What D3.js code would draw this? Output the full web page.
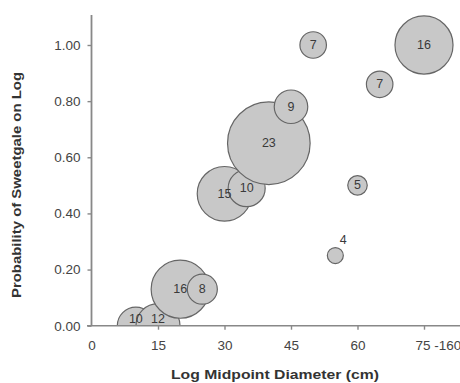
<!DOCTYPE html>
<html>
<head>
<meta charset="utf-8">
<script src="https://cdn.jsdelivr.net/npm/d3@7/dist/d3.min.js"></script>
<style>
  body { margin: 0; background: #fff; }
  svg { display: block; font-family: "Liberation Sans", Arial, sans-serif; }
</style>
</head>
<body>
<div class="graph-container"></div>
<script>
// values
const diameters = [10, 15, 20, 25, 30, 35, 40, 45, 50, 55, 60, 65, 75];
const probabilities = [0.00, 0.00, 0.13, 0.13, 0.47, 0.49, 0.65, 0.78, 1.00, 0.25, 0.50, 0.86, 1.00];
const counts = [10, 12, 16, 8, 15, 10, 23, 9, 7, 4, 5, 7, 16];
const xTicks = [0, 15, 30, 45, 60, 75];
const xTickLabels = ['0', '15', '30', '45', '60', '75 -160'];
const yTicks = [0, 0.2, 0.4, 0.6, 0.8, 1.0];

const width = 460;
const height = 383;

const svg = d3.select('.graph-container')
  .append('svg')
  .attr('width', width)
  .attr('height', height);

const x = d3.scaleLinear().domain([0, 75]).range([91.5, 424]);
const y = d3.scaleLinear().domain([0, 1]).range([325.7, 45]);
const r = d3.scaleLinear().domain([4, 23]).range([8, 41.3]);

const points = diameters.map((d, i) => ({ x: d, p: probabilities[i], n: counts[i] }));

// bubbles are cut off at the x axis
svg.append('clipPath').attr('id', 'plot-clip')
  .append('rect')
  .attr('x', x(0)).attr('y', 0)
  .attr('width', width - x(0)).attr('height', y(0));

const bubbles = svg.append('g').attr('clip-path', 'url(#plot-clip)');

bubbles.selectAll('circle')
  .data(points)
  .join('circle')
  .attr('cx', d => x(d.x))
  .attr('cy', d => y(d.p))
  .attr('r', d => r(d.n))
  .attr('fill', '#c8c8c8')
  .attr('stroke', '#666')
  .attr('stroke-width', 1.2);

// labels: small bubbles get theirs above-right, labels stay above the axis
svg.append('g')
  .selectAll('text')
  .data(points)
  .join('text')
  .attr('x', d => r(d.n) < 9 ? x(d.x) + 8 : x(d.x))
  .attr('y', d => r(d.n) < 9 ? y(d.p) - 16 : Math.min(y(d.p), y(0) - 7))
  .attr('text-anchor', 'middle')
  .attr('dominant-baseline', 'central')
  .attr('font-size', 12.5)
  .attr('fill', '#3a3a3a')
  .text(d => d.n);

// axes
const xAxis = svg.append('g')
  .attr('transform', `translate(0,${y(0)})`)
  .call(d3.axisBottom(x).tickValues(xTicks).tickFormat((d, i) => xTickLabels[i]).tickSizeOuter(0).tickSize(4).tickPadding(11));
xAxis.select('.domain').remove();
xAxis.append('line')
  .attr('x1', 87).attr('x2', width)
  .attr('stroke', '#888').attr('stroke-width', 1.6);
xAxis.selectAll('.tick line').attr('stroke', '#888').attr('stroke-width', 1.4);
xAxis.selectAll('.tick').filter(d => d === 0).select('line').remove();
xAxis.selectAll('.tick text')
  .attr('font-size', 13.5)
  .attr('font-family', '"Liberation Sans", Arial, sans-serif')
  .attr('fill', '#444')
  .attr('text-anchor', d => d === 75 ? 'start' : 'middle')
  .attr('dx', d => d === 75 ? -9 : 0);

const yAxis = svg.append('g')
  .attr('transform', `translate(${x(0)},0)`)
  .call(d3.axisLeft(y).tickValues(yTicks).tickFormat(d3.format('.2f')).tickSizeOuter(0).tickSize(4).tickPadding(7));
yAxis.select('.domain').remove();
yAxis.append('line')
  .attr('y1', 15).attr('y2', y(0))
  .attr('stroke', '#888').attr('stroke-width', 1.8);
yAxis.selectAll('.tick line').attr('stroke', '#888').attr('stroke-width', 1.4);
yAxis.selectAll('.tick text')
  .attr('font-size', 13.5)
  .attr('font-family', '"Liberation Sans", Arial, sans-serif')
  .attr('fill', '#444');

// axis titles
svg.append('text')
  .attr('x', 275).attr('y', 374)
  .attr('text-anchor', 'middle')
  .attr('dominant-baseline', 'central')
  .attr('font-size', 13)
  .attr('font-weight', 'bold')
  .attr('fill', '#333')
  .attr('textLength', 208)
  .attr('lengthAdjust', 'spacingAndGlyphs')
  .text('Log Midpoint Diameter (cm)');

svg.append('text')
  .attr('transform', 'translate(17,185) rotate(-90)')
  .attr('text-anchor', 'middle')
  .attr('dominant-baseline', 'central')
  .attr('font-size', 12.5)
  .attr('font-weight', 'bold')
  .attr('fill', '#333')
  .attr('textLength', 226)
  .attr('lengthAdjust', 'spacingAndGlyphs')
  .text('Probability of Sweetgale on Log');
</script>
</body>
</html>
